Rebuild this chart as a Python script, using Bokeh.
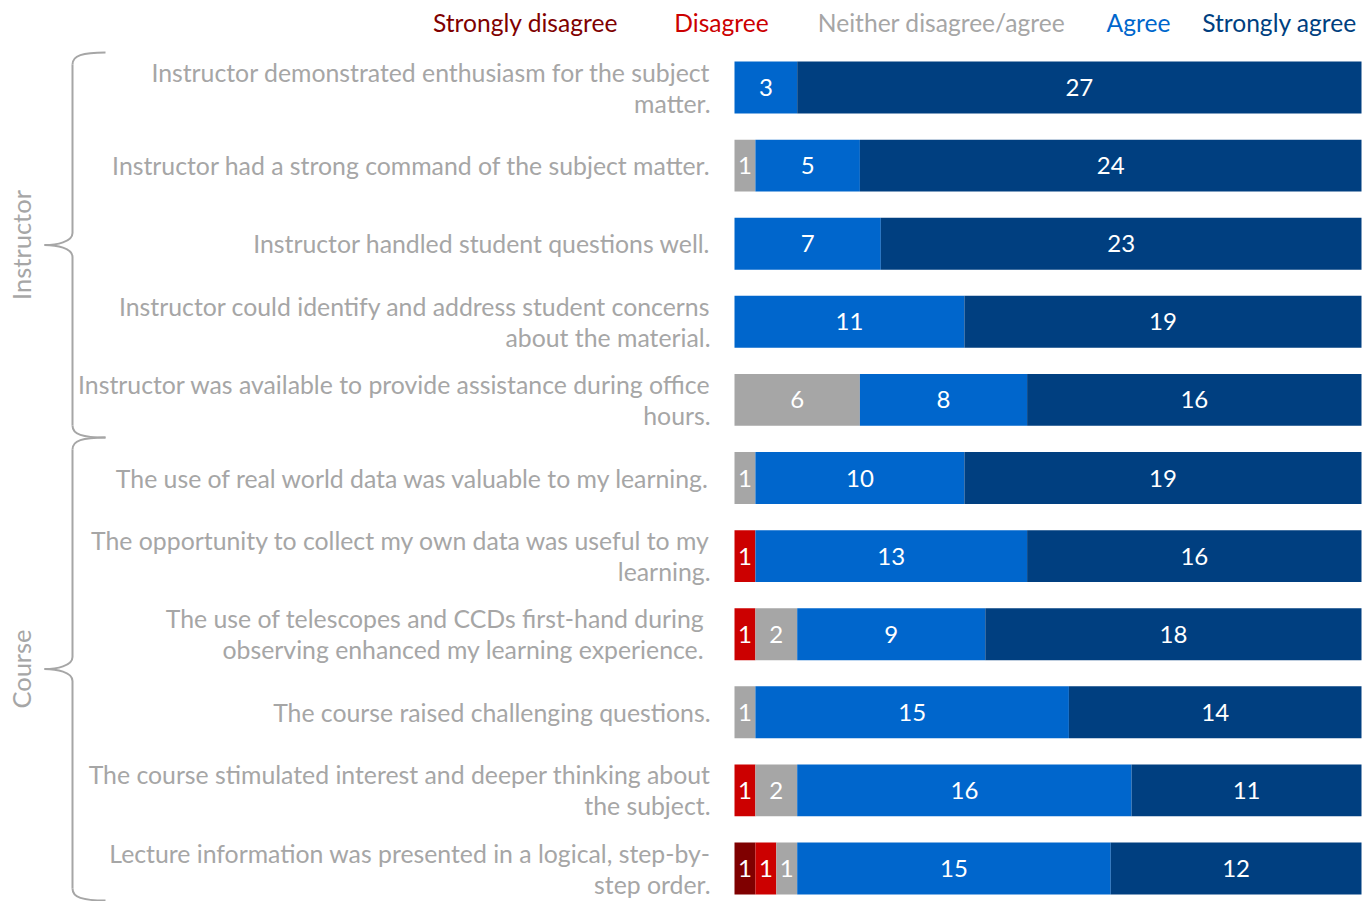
from bokeh.plotting import figure
from bokeh.models import ColumnDataSource, Range1d
from bokeh.core.properties import value
from bokeh.embed import file_html
from bokeh.resources import INLINE
import math

# ---------------- data ----------------
questions = [
    ["Instructor demonstrated enthusiasm for the subject", "matter."],
    ["Instructor had a strong command of the subject matter."],
    ["Instructor handled student questions well."],
    ["Instructor could identify and address student concerns", "about the material."],
    ["Instructor was available to provide assistance during office", "hours."],
    ["The use of real world data was valuable to my learning."],
    ["The opportunity to collect my own data was useful to my", "learning."],
    ["The use of telescopes and CCDs first-hand during\u00a0", "observing enhanced my learning experience.\u00a0"],
    ["The course raised challenging questions."],
    ["The course stimulated interest and deeper thinking about", "the subject."],
    ["Lecture information was presented in a logical, step-by-", "step order."],
]
categories = ["Strongly disagree", "Disagree", "Neither disagree/agree", "Agree", "Strongly agree"]
strongly_disagree = [0, 0, 0, 0, 0, 0, 0, 0, 0, 0, 1]
disagree          = [0, 0, 0, 0, 0, 0, 1, 1, 0, 1, 1]
neither           = [0, 1, 0, 0, 6, 1, 0, 2, 1, 2, 1]
agree             = [3, 5, 7, 11, 8, 10, 13, 9, 15, 16, 15]
strongly_agree    = [27, 24, 23, 19, 16, 19, 16, 18, 14, 11, 12]
groups = [("Instructor", 0, 4), ("Course", 5, 10)]

colors = ["#7F0000", "#CC0000", "#A6A6A6", "#0066CC", "#003F80"]
GRAY = "#A6A6A6"
FONT = "Lato"

# ---------------- geometry helpers (pixel <-> data) ----------------
W, H = 1372, 901
X0PX, PXU = 734.0, 20.9       # bar origin pixel, pixels per response
Y0PX, PXR = 87.0, 78.1        # first row centre pixel, pixels per row

def px2x(px):
    return (px - X0PX) / PXU

def px2y(py):
    return (py - Y0PX) / PXR

p = figure(width=W, height=H, output_backend="svg", toolbar_location=None,
           x_range=Range1d(px2x(0), px2x(W)), y_range=Range1d(px2y(H), px2y(0)),
           min_border=0, outline_line_color=None)
p.xaxis.visible = False
p.yaxis.visible = False
p.grid.visible = False
p.background_fill_color = "white"

n = len(questions)
ys = list(range(n))
src = ColumnDataSource(dict(y=ys, sd=strongly_disagree, d=disagree, n=neither,
                            a=agree, sa=strongly_agree))
stack_keys = ["sd", "d", "n", "a", "sa"]
p.hbar_stack(stack_keys, y="y", height=0.665, color=colors, line_color=None, source=src)

# value labels inside segments
series = [strongly_disagree, disagree, neither, agree, strongly_agree]
lx, ly, lt = [], [], []
for i in range(n):
    left = 0
    for s in series:
        v = s[i]
        if v > 0:
            lx.append(left + v / 2.0)
            ly.append(i)
            lt.append(str(v))
        left += v
p.text(x=lx, y=ly, text=lt, text_color="white", text_align="center",
       text_baseline="middle", text_font=value(FONT), text_font_size=value("24px"))

# question labels (right aligned)
qx, qy, qt = [], [], []
line_gap = 31.0 / PXR
for i, lines in enumerate(questions):
    k = len(lines)
    for j, line in enumerate(lines):
        qx.append(px2x(710))
        qy.append(i + (j - (k - 1) / 2.0) * line_gap)
        qt.append(line)
p.text(x=qx, y=qy, text=qt, text_color=GRAY, text_align="right",
       text_baseline="middle", text_font=value(FONT), text_font_size=value("24.8px"))

# legend as coloured text
leg_centers = [525, 721, 941, 1138, 1279]
p.text(x=[px2x(c) for c in leg_centers], y=[px2y(22)] * 5, text=categories,
       text_color=colors, text_align="center", text_baseline="middle",
       text_font=value(FONT), text_font_size=value("24.6px"))

# braces with group labels
bx_end, bx_line, bx_tip = 105, 72, 44
spans_px = [(52, 437), (437, 900)]
for (name, r0, r1), (top, bot) in zip(groups, spans_px):
    mid = (top + bot) / 2.0
    segs = [
        ((bx_end, top), (bx_line, top + 12), (82, top), (bx_line, top + 3)),
        ((bx_line, mid - 12), (bx_tip, mid), (bx_line, mid - 3), (56, mid)),
        ((bx_tip, mid), (bx_line, mid + 12), (56, mid), (bx_line, mid + 3)),
        ((bx_line, bot - 12), (bx_end, bot), (bx_line, bot - 3), (82, bot)),
    ]
    p.bezier(x0=[px2x(s[0][0]) for s in segs], y0=[px2y(s[0][1]) for s in segs],
             x1=[px2x(s[1][0]) for s in segs], y1=[px2y(s[1][1]) for s in segs],
             cx0=[px2x(s[2][0]) for s in segs], cy0=[px2y(s[2][1]) for s in segs],
             cx1=[px2x(s[3][0]) for s in segs], cy1=[px2y(s[3][1]) for s in segs],
             line_color=GRAY, line_width=2)
    p.segment(x0=[px2x(bx_line)] * 2, y0=[px2y(top + 12), px2y(mid + 12)],
              x1=[px2x(bx_line)] * 2, y1=[px2y(mid - 12), px2y(bot - 12)],
              line_color=GRAY, line_width=2)
    p.text(x=[px2x(20)], y=[px2y(mid)], text=[name], angle=math.pi / 2,
           text_color=GRAY, text_align="center", text_baseline="middle",
           text_font=value(FONT), text_font_size=value("25.5px"))

open("out.html", "w").write(file_html(p, INLINE))
